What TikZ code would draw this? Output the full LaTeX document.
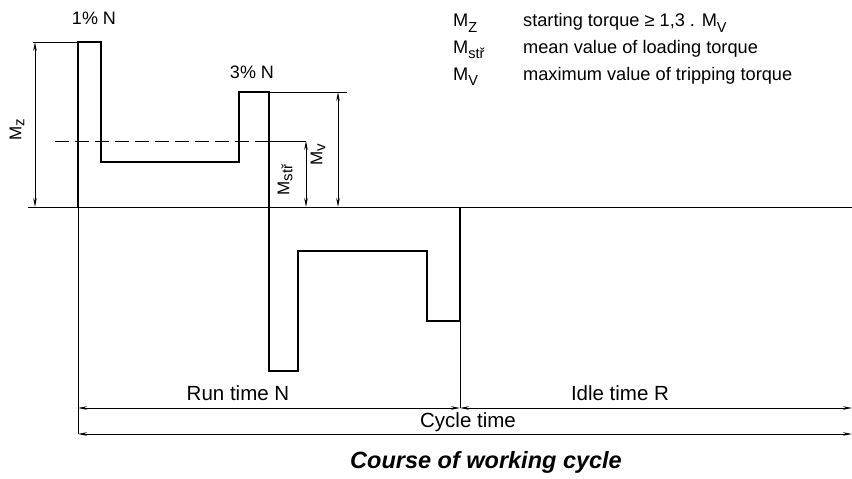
\documentclass[tikz,border=0pt]{standalone}
\usepackage{fontspec}
\setmainfont{Liberation Sans}
\usetikzlibrary{arrows.meta}
\newcommand\lsub[1]{\raisebox{-5.5pt}{\fontsize{14.5}{15}\selectfont #1}}
\newcommand\rsub[1]{\raisebox{-3pt}{\fontsize{15}{16}\selectfont #1}}
\begin{document}
\begin{tikzpicture}[x=1pt,y=-1pt,
  wave/.style={line width=1.8pt,line join=miter},
  thin/.style={line width=0.8pt},
  dim/.style={line width=0.8pt,{Stealth[length=9pt,width=3.5pt]}-{Stealth[length=9pt,width=3.5pt]}},
  lbl/.style={font=\fontsize{20.5}{22}\selectfont,inner sep=0pt},
  leg/.style={font=\fontsize{18.2}{20}\selectfont,inner sep=0pt,anchor=base west},
  rot/.style={font=\fontsize{17}{18}\selectfont,inner sep=0pt,rotate=90},
  pct/.style={font=\fontsize{18}{20}\selectfont,inner sep=0pt}]
\useasboundingbox (0,0) rectangle (852,479);
% key points
\coordinate (a0) at (78,207);
\coordinate (a1) at (78,42);
\coordinate (a2) at (101,42);
\coordinate (a3) at (101,162);
\coordinate (a4) at (239,162);
\coordinate (a5) at (239,92);
\coordinate (a6) at (269,92);
\coordinate (a7) at (269,371);
\coordinate (a8) at (298,371);
\coordinate (a9) at (298,251);
\coordinate (a10) at (427,251);
\coordinate (a11) at (427,321);
\coordinate (a12) at (460,321);
\coordinate (a13) at (460,207);
\coordinate (axL) at (28,207);
\coordinate (axR) at (852,207);
% axis
\draw[thin] (axL) -- (axR);
% waveform
\draw[wave] (a0) -- (a1) -- (a2) -- (a3) -- (a4) -- (a5) -- (a6) -- (a7) -- (a8) -- (a9) -- (a10) -- (a11) -- (a12) -- (a13);
% extension lines
\coordinate (mzT) at (33,42);
\coordinate (mvT) at (347,92);
\draw[thin] (mzT) -- (a1);
\draw[thin] (a6) -- (mvT);
\coordinate (dL) at (55,141);
\coordinate (dM) at (269,141);
\coordinate (dR) at (306,141);
\draw[thin,dash pattern=on 14pt off 6pt] (dL) -- (dM);
\draw[thin] (dM) -- (dR);
% dimension arrows
\coordinate (mz1) at (35,42);
\coordinate (mz2) at (35,207);
\draw[dim] (mz1) -- (mz2);
\coordinate (mv1) at (338,92);
\coordinate (mv2) at (338,207);
\draw[dim] (mv1) -- (mv2);
\coordinate (ms1) at (306,141);
\coordinate (ms2) at (306,207);
\draw[dim] (ms1) -- (ms2);
% bottom verticals
\coordinate (b0) at (78,434);
\coordinate (b1) at (460,408);
\draw[thin] (a0) -- (b0);
\draw[thin] (a12) -- (b1);
% time arrows
\coordinate (rL) at (78,408);
\coordinate (rR) at (852,408);
\coordinate (cR) at (852,434);
\draw[dim] (rL) -- (b1);
\draw[dim] (b1) -- (rR);
\draw[dim] (b0) -- (cR);
% labels
\node[rot] (lmz) at (17,130) {M\rsub{z}};
\node[rot] (lmv) at (318,155) {M\rsub{v}};
\node[rot] (lms) at (285,180) {M\rsub{stř}};
\node[pct] (p1) at (94,18) {1\% N};
\node[pct] (p3) at (252,72) {3\% N};
\node[lbl] (run) at (238,393) {Run time N};
\node[lbl] (idle) at (620,393) {Idle time R};
\node[lbl] (cyc) at (468,422) {Cycle time};
\node[font=\fontsize{23.5}{26}\selectfont\bfseries\itshape,inner sep=0pt] (title) at (486,462) {Course of working cycle};
% legend
\node[leg] (k1) at (453,27) {M\lsub{Z}};
\node[leg] (k2) at (453,53) {M\lsub{stř}};
\node[leg] (k3) at (453,80) {M\lsub{V}};
\node[leg] (t1) at (523,27) {starting torque ≥ 1,3 . M\lsub{V}};
\node[leg] (t2) at (523,53) {mean value of loading torque};
\node[leg] (t3) at (523,80) {maximum value of tripping torque};
\end{tikzpicture}
\end{document}
